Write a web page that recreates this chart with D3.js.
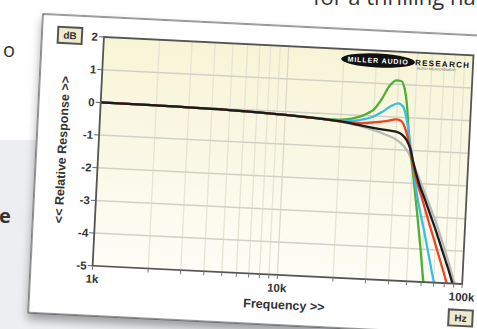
<!DOCTYPE html>
<html>
<head>
<meta charset="utf-8">
<script src="https://cdn.jsdelivr.net/npm/d3@7"></script>
<style>
  html, body { margin: 0; padding: 0; background: #fff; overflow: hidden; }
  svg { display: block; }
</style>
</head>
<body>
<svg id="page" width="477" height="329"></svg>
<script>
// frequency response, [Hz, dB] per load
const greyCurve = [[1000, 0], [2000, -0.01], [5000, -0.04], [10000, -0.1], [15000, -0.16], [20000, -0.23], [25000, -0.32],
  [30000, -0.43], [35000, -0.55], [40000, -0.68], [44000, -0.85], [47000, -1.05], [50000, -1.35], [55000, -1.85],
  [60000, -2.33], [65000, -2.78], [70000, -3.2], [75000, -3.65], [80000, -4.08], [85000, -4.5], [90000, -4.93], [91000, -5]];
const greenCurve = [[1000, 0], [2000, -0.01], [5000, -0.04], [10000, -0.1], [15000, -0.15], [18000, -0.17], [21000, -0.15],
  [25000, -0.05], [28000, 0.08], [30000, 0.2], [33000, 0.55], [36000, 0.95], [39000, 1.12], [41500, 1.1], [43500, 0.85],
  [45000, 0.42], [46500, -0.27], [48000, -0.88], [50000, -1.5], [52500, -2.25], [55000, -3.0], [58000, -3.9], [61500, -4.95], [61700, -5]];
const cyanCurve = [[1000, 0], [2000, -0.01], [5000, -0.04], [10000, -0.1], [15000, -0.16], [20000, -0.2], [25000, -0.15],
  [30000, -0.02], [33000, 0.12], [36500, 0.3], [40500, 0.42], [43000, 0.33], [45400, -0.07], [48000, -0.78], [50000, -1.3],
  [52300, -1.95], [55000, -2.55], [60000, -3.39], [65000, -4.2], [70000, -4.95], [70400, -5]];
const redCurve = [[1000, 0], [2000, -0.01], [5000, -0.04], [10000, -0.1], [15000, -0.16], [20000, -0.22], [25000, -0.24],
  [30000, -0.2], [35000, -0.14], [40000, -0.07], [42500, -0.12], [45500, -0.45], [48000, -0.9], [50000, -1.35],
  [53000, -1.88], [58000, -2.5], [63000, -3.1], [68000, -3.63], [73000, -4.13], [78000, -4.6], [82500, -5]];
const blackCurve = [[1000, 0], [2000, -0.01], [5000, -0.04], [10000, -0.1], [15000, -0.16], [20000, -0.22], [25000, -0.3],
  [30000, -0.37], [35000, -0.41], [40000, -0.45], [43000, -0.52], [46000, -0.7], [48500, -0.98], [50500, -1.35],
  [55000, -2.0], [60000, -2.5], [65000, -2.98], [70000, -3.43], [75000, -3.88], [80000, -4.3], [85000, -4.7], [88500, -5]];

const yTicks = [2, 1, 0, -1, -2, -3, -4, -5];
const xLabelValues = [1000, 10000, 100000];
const xLabelText = ["1k", "10k", "100k"];

const series = [
  { data: greyCurve, color: "#b9b9b9" },
  { data: greenCurve, color: "#4db032" },
  { data: cyanCurve, color: "#3cbde9" },
  { data: redCurve, color: "#ee4422" },
  { data: blackCurve, color: "#1c1c1c" }
];

const svg = d3.select("#page");
const defs = svg.append("defs");

const bg = defs.append("linearGradient").attr("id", "plotBg").attr("x1", 0).attr("y1", 0).attr("x2", 0).attr("y2", 1);
bg.append("stop").attr("offset", "0%").attr("stop-color", "#f7f4d6");
bg.append("stop").attr("offset", "100%").attr("stop-color", "#fdfdf6");

const shadow = defs.append("filter").attr("id", "shadow").attr("x", "-10%").attr("y", "-10%").attr("width", "130%").attr("height", "130%");
shadow.append("feDropShadow").attr("dx", 0).attr("dy", 6).attr("stdDeviation", 5)
  .attr("flood-color", "#000").attr("flood-opacity", 0.35);

// surrounding web page bits
svg.append("rect").attr("x", 0).attr("y", 140).attr("width", 340).attr("height", 189).attr("fill", "#eceef1");

const pageFont = "'Open Sans', sans-serif";
svg.append("text").attr("x", 3).attr("y", 57).attr("font-family", pageFont).attr("font-size", 20)
  .attr("fill", "#333").text("o");
svg.append("text").attr("x", -1).attr("y", 223).attr("font-family", pageFont).attr("font-size", 20)
  .attr("font-weight", 700).attr("fill", "#333").text("e");
svg.append("text").attr("x", 313).attr("y", 5).attr("font-family", pageFont).attr("font-size", 22)
  .attr("fill", "#333").text("for a thrilling ha");

// the tilted chart card
const card = svg.append("g").attr("transform", "translate(43,14) rotate(2.83)");
card.append("rect").attr("width", 470).attr("height", 299)
  .attr("fill", "#fff").attr("stroke", "#333").attr("stroke-width", 1).attr("filter", "url(#shadow)");

const plot = { left: 62, top: 20, right: 432, bottom: 249 };
const x = d3.scaleLog().domain([1000, 100000]).range([plot.left, plot.right]);
const y = d3.scaleLinear().domain([-5, 2]).range([plot.bottom, plot.top]);

defs.append("clipPath").attr("id", "plotClip").append("rect")
  .attr("x", plot.left).attr("y", plot.top).attr("width", plot.right - plot.left).attr("height", plot.bottom - plot.top);

card.append("rect").attr("x", plot.left).attr("y", plot.top)
  .attr("width", plot.right - plot.left).attr("height", plot.bottom - plot.top).attr("fill", "url(#plotBg)");

const grid = card.append("g");
grid.selectAll(".vgrid").data(x.ticks().filter(d => d > 1000 && d < 100000)).enter().append("line")
  .attr("x1", d => x(d)).attr("x2", d => x(d)).attr("y1", plot.top).attr("y2", plot.bottom)
  .attr("stroke", d => d === 10000 ? "#dcdacb" : "#e6e4d2").attr("stroke-width", 1.3);
grid.selectAll(".hgrid").data(yTicks.slice(1, -1)).enter().append("line")
  .attr("x1", plot.left).attr("x2", plot.right).attr("y1", d => y(d)).attr("y2", d => y(d))
  .attr("stroke", "#d2d1c6").attr("stroke-width", 1.5);

const line = d3.line().x(d => x(d[0])).y(d => y(d[1])).curve(d3.curveMonotoneX);
const curves = card.append("g").attr("clip-path", "url(#plotClip)");
curves.selectAll("path").data(series).enter().append("path")
  .attr("d", d => line(d.data)).attr("fill", "none")
  .attr("stroke", d => d.color).attr("stroke-width", 2.3).attr("stroke-linejoin", "round");

// frame and ticks
card.append("rect").attr("x", plot.left).attr("y", plot.top)
  .attr("width", plot.right - plot.left).attr("height", plot.bottom - plot.top)
  .attr("fill", "none").attr("stroke", "#555").attr("stroke-width", 1.8);

const labelFont = "'Liberation Sans', Arial, sans-serif";
const yAxis = card.append("g");
yAxis.selectAll("line").data(yTicks).enter().append("line")
  .attr("x1", plot.left - 5).attr("x2", plot.left).attr("y1", d => y(d)).attr("y2", d => y(d))
  .attr("stroke", "#666").attr("stroke-width", 1);
yAxis.selectAll("text").data(yTicks).enter().append("text")
  .attr("x", plot.left - 6).attr("y", d => y(d)).attr("dy", "0.36em")
  .attr("text-anchor", "end").attr("font-family", labelFont).attr("font-weight", 700)
  .attr("font-size", 11.5).attr("fill", "#333").text(d => d);

const xAxis = card.append("g");
xAxis.selectAll("line").data(x.ticks()).enter().append("line")
  .attr("x1", d => x(d)).attr("x2", d => x(d)).attr("y1", plot.bottom).attr("y2", plot.bottom + 4)
  .attr("stroke", "#777").attr("stroke-width", 1);
xAxis.selectAll("text").data(xLabelValues).enter().append("text")
  .attr("x", d => x(d)).attr("y", plot.bottom + 17)
  .attr("text-anchor", "middle").attr("font-family", labelFont).attr("font-weight", 700)
  .attr("font-size", 11.5).attr("fill", "#333").text((d, i) => xLabelText[i]);

card.append("text").attr("x", 255).attr("y", plot.bottom + 34).attr("text-anchor", "middle")
  .attr("font-family", labelFont).attr("font-weight", 700).attr("font-size", 12.5).attr("fill", "#333")
  .text("Frequency >>");
card.append("text").attr("transform", `translate(30,${(plot.top + plot.bottom) / 2}) rotate(-90)`)
  .attr("text-anchor", "middle").attr("font-family", labelFont).attr("font-weight", 700)
  .attr("font-size", 12.5).attr("fill", "#333").text("<< Relative Response >>");

// unit boxes
const unitBox = (cx, cy, label) => {
  card.append("rect").attr("x", cx - 12).attr("y", cy - 8).attr("width", 24).attr("height", 16)
    .attr("fill", "#eeeacb").attr("stroke", "#555").attr("stroke-width", 2);
  card.append("text").attr("x", cx).attr("y", cy).attr("dy", "0.36em").attr("text-anchor", "middle")
    .attr("font-family", labelFont).attr("font-weight", 700).attr("font-size", 10).attr("fill", "#333").text(label);
};
unitBox(28, 20, "dB");
unitBox(432, 283, "Hz");

// logo
const logo = card.append("g");
logo.append("ellipse").attr("cx", 337).attr("cy", 30).attr("rx", 37).attr("ry", 7).attr("fill", "#111");
logo.append("text").attr("x", 337).attr("y", 30).attr("dy", "0.36em").attr("text-anchor", "middle")
  .attr("font-family", labelFont).attr("font-weight", 700).attr("font-size", 7).attr("letter-spacing", 0.9)
  .attr("fill", "#fff").text("MILLER AUDIO");
logo.append("text").attr("x", 374).attr("y", 30).attr("dy", "0.36em")
  .attr("font-family", labelFont).attr("font-weight", 700).attr("font-size", 8).attr("letter-spacing", 1.3)
  .attr("fill", "#111").text("RESEARCH");
logo.append("text").attr("x", 376).attr("y", 37)
  .attr("font-family", labelFont).attr("font-size", 3.5).attr("fill", "#666").text("AUDIO MEASUREMENT");
</script>
</body>
</html>
